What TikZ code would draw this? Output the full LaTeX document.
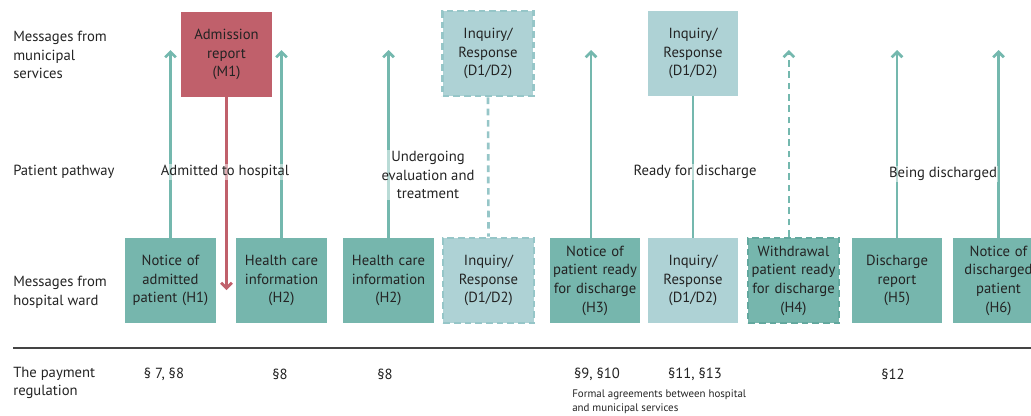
\documentclass[tikz,border=0pt]{standalone}
\usepackage{fontspec}
\setmainfont{PT Sans}
\usetikzlibrary{arrows.meta,positioning}

\definecolor{ink}{RGB}{35,35,35}
\definecolor{wardteal}{RGB}{118,182,173}
\definecolor{wardedge}{RGB}{98,168,158}
\definecolor{querylight}{RGB}{174,210,213}
\definecolor{queryedge}{RGB}{150,198,200}
\definecolor{munired}{RGB}{192,96,107}
\definecolor{arrowteal}{RGB}{116,184,174}

\begin{document}
\begin{tikzpicture}[x=0.75pt,y=-0.75pt,
            msg/.style={rectangle,minimum width=68pt,minimum height=64pt,text width=67pt,
                        align=center,inner sep=0pt,text=ink,font=\fontsize{11}{14}\selectfont},
            ward/.style={msg,fill=wardteal},
            query/.style={msg,fill=querylight},
            muni/.style={msg,fill=munired},
            dashbox/.style={draw=#1,line width=1.8pt,dash pattern=on 5pt off 3pt},
            rowlab/.style={anchor=west,align=left,inner sep=0pt,text=ink,font=\fontsize{11}{14}\selectfont},
            phase/.style={align=center,inner sep=1pt,text=ink,fill=white,fill opacity=.5,text opacity=1,
                          font=\fontsize{11}{14}\selectfont},
            para/.style={inner sep=0pt,text=ink,font=\fontsize{11}{14}\selectfont},
            up/.style={draw=arrowteal,line width=2pt,-{Straight Barb[length=4pt,width=8pt]}},
            link/.style={draw=#1,line width=2pt},
            dashlink/.style={draw=#1,line width=2pt,dash pattern=on 5pt off 3.5pt}
          ]
          \useasboundingbox (0,0) rectangle (1031,415);

          %row labels
          \node[rowlab] (lmuni) at (13,55) {Messages from\\municipal\\services};
          \node[rowlab] (lpath) at (13,172) {Patient pathway};
          \node[rowlab] (lward) at (13,292) {Messages from\\hospital ward};
          \node[rowlab] (lpay) at (13,383) {The payment\\regulation};

          %municipal messages
          \node[muni] (m1) at (226.5,54.5) {Admission\\report\\(M1)};
          \node[query,dashbox=queryedge] (d1) at (488,53.5) {Inquiry/\\Response\\(D1/D2)};
          \node[query] (d3) at (693,53.5) {Inquiry/\\Response\\(D1/D2)};

          %hospital ward messages
          \node[ward] (h1) at (170.5,280.5) {Notice of\\admitted\\patient (H1)};
          \node[ward] (h2) at (281.5,280.5) {Health care\\information\\(H2)};
          \node[ward] (h2b) at (388.5,280.5) {Health care\\information\\(H2)};
          \node[query,dashbox=queryedge] (d2) at (488.5,280.5) {Inquiry/\\Response\\(D1/D2)};
          \node[ward] (h3) at (595,280.5) {Notice of\\patient ready\\for discharge\\(H3)};
          \node[query] (d4) at (693,280.5) {Inquiry/\\Response\\(D1/D2)};
          \node[ward,dashbox=wardedge] (h4) at (793.5,280.5) {Withdrawal\\patient ready\\for discharge\\(H4)};
          \node[ward] (h5) at (897,280.5) {Discharge\\report\\(H5)};
          \node[ward] (h6) at (998.5,280.5) {Notice of\\discharged\\patient\\(H6)};

          %arrow ends
          \coordinate (top) at (0,50);
          \coordinate (m1end) at (226.5,290);

          \path
          (h1.north) edge[up] (h1.north |- top)
          (h2.north) edge[up] (h2.north |- top)
          (h2b.north) edge[up] (h2b.north |- top)
          ([xshift=-3pt]h3.north) edge[up] ([xshift=-3pt]h3.north |- top)
          ([xshift=-3.5pt]h4.north) edge[up,dash pattern=on 5pt off 3.5pt] ([xshift=-3.5pt]h4.north |- top)
          (h5.north) edge[up] (h5.north |- top)
          (h6.north) edge[up] (h6.north |- top)
          (m1.south) edge[link=munired,-{Straight Barb[length=4pt,width=8pt]}] (m1end)
          (d1.south) edge[dashlink=queryedge] (d2.north)
          (d3.south) edge[link=arrowteal] (d4.north)
          ;

          %patient pathway
          \node[phase] (p1) at (225,172) {Admitted to hospital};
          \node[phase] (p2) at (428,175) {Undergoing\\evaluation and\\treatment};
          \node[phase] (p3) at (695,172) {Ready for discharge};
          \node[phase] (p4) at (943,174) {Being discharged};

          %payment regulation
          \coordinate (rulea) at (13,348);
          \coordinate (ruleb) at (1031,348);
          \draw[ink!85,line width=1.6pt] (rulea) -- (ruleb);
          \node[para] (s1) at (164,374) {§ 7, §8};
          \node[para] (s2) at (280,374) {§8};
          \node[para] (s3) at (385,374) {§8};
          \node[para] (s4) at (597,374) {§9, §10};
          \node[para] (s5) at (695,374) {§11, §13};
          \node[para] (s6) at (893,374) {§12};
          \node[anchor=north west,align=left,inner sep=0pt,text=ink,font=\fontsize{8.2}{10.5}\selectfont]
            (formal) at (572,389) {Formal agreements between hospital\\and municipal services};
      \end{tikzpicture}
\end{document}
